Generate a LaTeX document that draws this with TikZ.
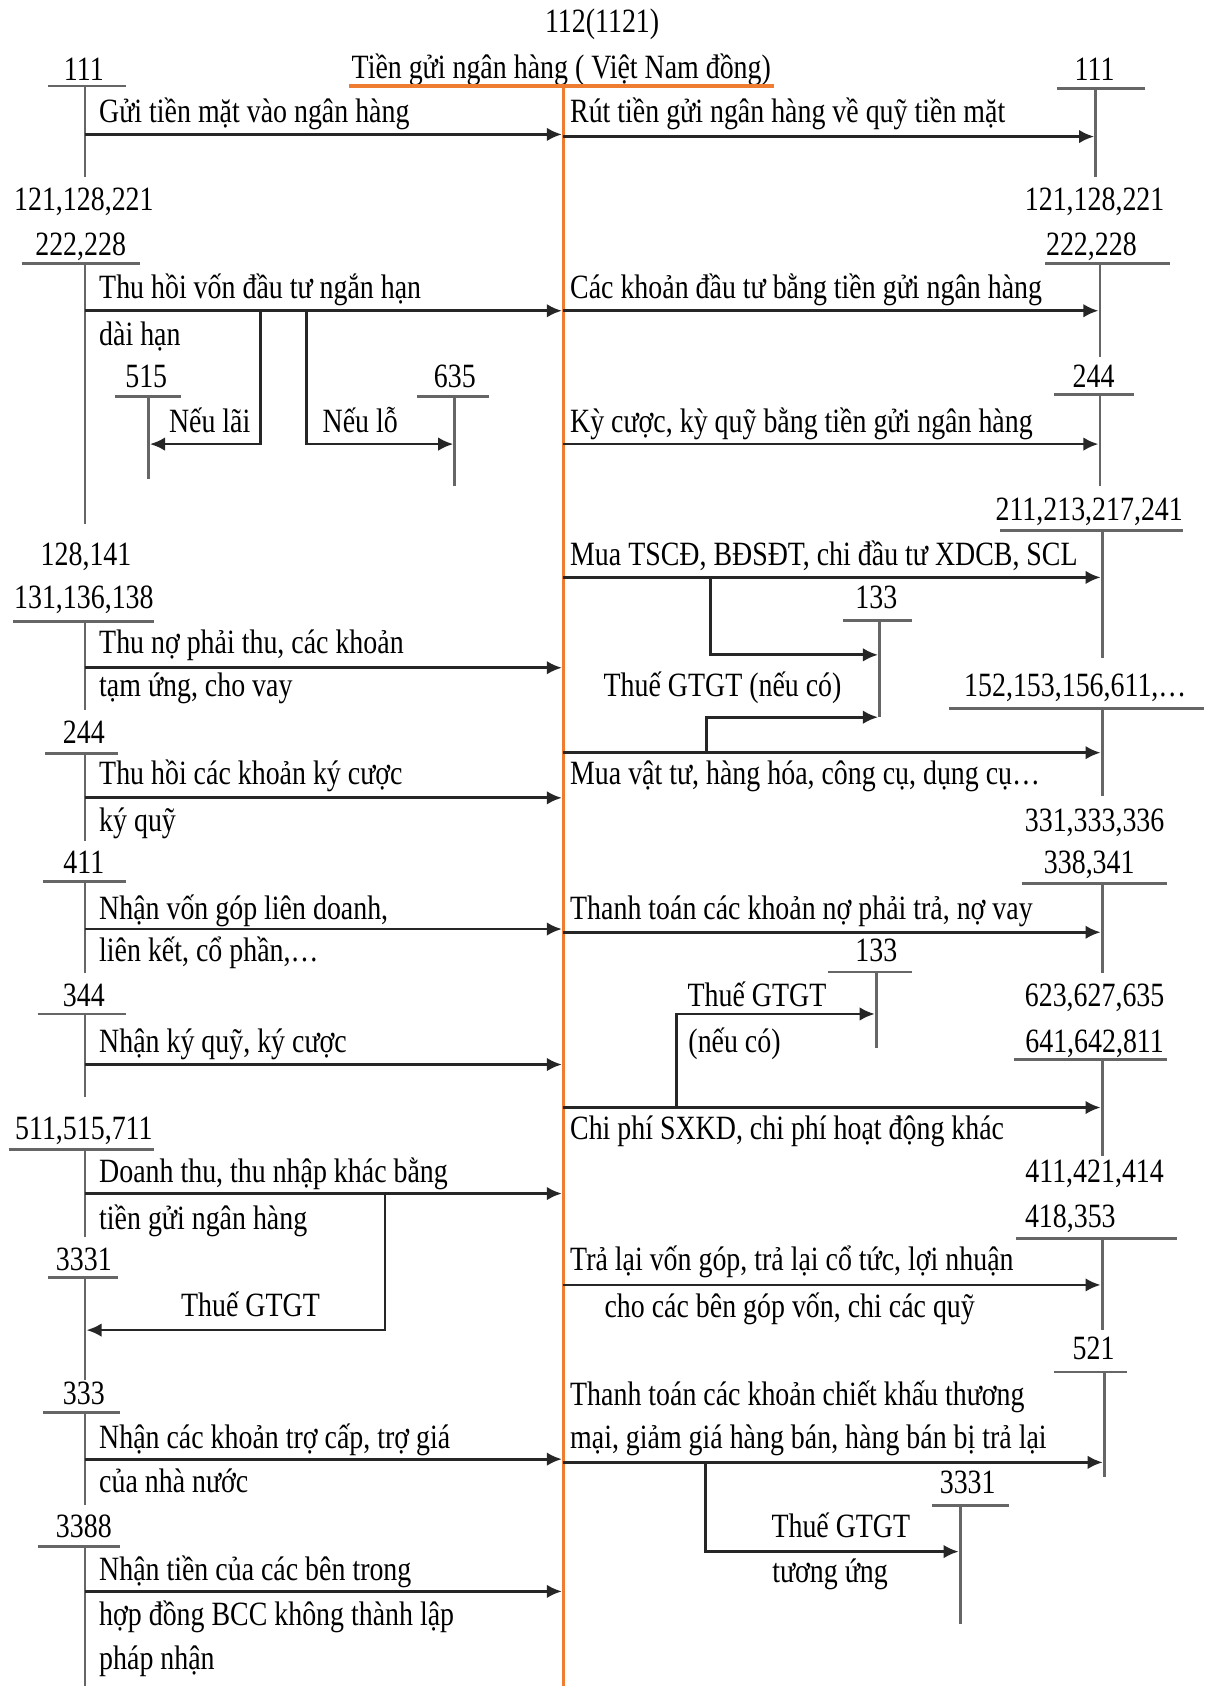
\documentclass[tikz,border=0pt]{standalone}
\usepackage{fontspec}
\setmainfont{Liberation Serif}[FakeStretch=0.82]
\usetikzlibrary{arrows.meta}
\definecolor{bankline}{HTML}{EE7D31}
\tikzset{
      acct/.style={inner sep=0pt, anchor=base},
      memo/.style={inner sep=0pt, anchor=base west},
      tbar/.style={draw=black!60, line width=1.9pt},
      flow/.style={draw=black!85, line width=1.8pt, shorten >=1pt, -{Latex[length=10pt,width=9pt]}},
      ledger/.style={draw=bankline, line width=2.4pt}
    }

\begin{document}
\begin{tikzpicture}[x=0.025cm,y=-0.025cm,font=\fontsize{22.5}{28}\selectfont]
    \useasboundingbox (0,0) rectangle (1120,1568);
    \node[acct] (a112) at (560,30) {112(1121)};
    \node[acct] (title) at (522,73) {Tiền gửi ngân hàng ( Việt Nam đồng)};
    \coordinate (bank) at (524,80);
    \coordinate (bankend) at (524,1568);
    \draw[ledger] (325,80) -- (720,80);
    \draw[ledger] (bank) -- (bankend);

    % ben no
    \node[acct] (l111) at (78,75) {111};
    \draw[tbar] (45,80) -- (117,80);
    \draw[tbar] (79,80) -- (79,165);
    \coordinate (in1) at (79,125);
    \draw[flow] (in1) -- (in1 -| bank);
    \node[memo] (m1) at (92,114) {Gửi tiền mặt vào ngân hàng};

    \node[acct] (l121) at (78,196) {121,128,221};
    \node[acct] (l222) at (75,238) {222,228};
    \draw[tbar] (20,245) -- (130,245);
    \draw[tbar] (79,245) -- (79,487);
    \coordinate (in2) at (79,289);
    \draw[flow] (in2) -- (in2 -| bank);
    \node[memo] (m2) at (92,278) {Thu hồi vốn đầu tư ngắn hạn};
    \node[memo] (m2b) at (92,321) {dài hạn};
    \node[acct] (l515) at (136,360) {515};
    \draw[tbar] (107,369) -- (168,369);
    \draw[tbar] (138,369) -- (138,445);
    \node[acct] (l635) at (423,360) {635};
    \draw[tbar] (388,369) -- (455,369);
    \draw[tbar] (423,369) -- (423,452);
    \coordinate (gain) at (242,289);
    \coordinate (g515) at (138,413);
    \draw[flow] (gain) |- (g515);
    \coordinate (loss) at (285,289);
    \coordinate (g635) at (423,413);
    \draw[flow] (loss) |- (g635);
    \node[acct] (lai) at (195,402) {Nếu lãi};
    \node[acct] (lo) at (335,402) {Nếu lỗ};

    \node[acct] (l128) at (80,526) {128,141};
    \node[acct] (l131) at (78,566) {131,136,138};
    \draw[tbar] (12,578) -- (143,578);
    \draw[tbar] (79,578) -- (79,660);
    \coordinate (in3) at (79,621);
    \draw[flow] (in3) -- (in3 -| bank);
    \node[memo] (m3) at (92,608) {Thu nợ phải thu, các khoản};
    \node[memo] (m3b) at (92,648) {tạm ứng, cho vay};

    \node[acct] (l244) at (78,691) {244};
    \draw[tbar] (42,701) -- (110,701);
    \draw[tbar] (79,701) -- (79,782);
    \coordinate (in4) at (79,742);
    \draw[flow] (in4) -- (in4 -| bank);
    \node[memo] (m4) at (92,730) {Thu hồi các khoản ký cược};
    \node[memo] (m4b) at (92,773) {ký quỹ};

    \node[acct] (l411) at (78,812) {411};
    \draw[tbar] (40,820) -- (117,820);
    \draw[tbar] (79,820) -- (79,905);
    \coordinate (in5) at (79,864);
    \draw[flow] (in5) -- (in5 -| bank);
    \node[memo] (m5) at (92,855) {Nhận vốn góp liên doanh,};
    \node[memo] (m5b) at (92,894) {liên kết, cổ phần,…};

    \node[acct] (l344) at (78,936) {344};
    \draw[tbar] (35,943) -- (117,943);
    \draw[tbar] (79,943) -- (79,1020);
    \coordinate (in6) at (79,990);
    \draw[flow] (in6) -- (in6 -| bank);
    \node[memo] (m6) at (92,979) {Nhận ký quỹ, ký cược};

    \node[acct] (l511) at (78,1060) {511,515,711};
    \draw[tbar] (8,1069) -- (143,1069);
    \draw[tbar] (79,1069) -- (79,1150);
    \coordinate (in7) at (79,1110);
    \draw[flow] (in7) -- (in7 -| bank);
    \node[memo] (m7) at (92,1100) {Doanh thu, thu nhập khác bằng};
    \node[memo] (m7b) at (92,1143) {tiền gửi ngân hàng};
    \node[acct] (l3331) at (78,1182) {3331};
    \draw[tbar] (45,1188) -- (110,1188);
    \draw[tbar] (79,1188) -- (79,1283);
    \coordinate (vatl) at (358,1110);
    \coordinate (g3331) at (79,1237);
    \draw[flow] (vatl) |- (g3331);
    \node[acct] (vatlt) at (233,1224) {Thuế GTGT};

    \node[acct] (l333) at (78,1306) {333};
    \draw[tbar] (40,1314) -- (112,1314);
    \draw[tbar] (79,1314) -- (79,1400);
    \coordinate (in8) at (79,1357);
    \draw[flow] (in8) -- (in8 -| bank);
    \node[memo] (m8) at (92,1347) {Nhận các khoản trợ cấp, trợ giá};
    \node[memo] (m8b) at (92,1388) {của nhà nước};

    \node[acct] (l3388) at (78,1430) {3388};
    \draw[tbar] (35,1438) -- (112,1438);
    \draw[tbar] (79,1438) -- (79,1568);
    \coordinate (in9) at (79,1480);
    \draw[flow] (in9) -- (in9 -| bank);
    \node[memo] (m9) at (92,1470) {Nhận tiền của các bên trong};
    \node[memo] (m9b) at (92,1512) {hợp đồng BCC không thành lập};
    \node[memo] (m9c) at (92,1553) {pháp nhận};

    % ben co
    \node[acct] (r111) at (1018,75) {111};
    \draw[tbar] (983,82) -- (1065,82);
    \draw[tbar] (1019,82) -- (1019,165);
    \coordinate (out1) at (1019,127);
    \draw[flow] (out1 -| bank) -- (out1);
    \node[memo] (n1) at (530,114) {Rút tiền gửi ngân hàng về quỹ tiền mặt};

    \node[acct] (r121) at (1018,196) {121,128,221};
    \node[acct] (r222) at (1015,238) {222,228};
    \draw[tbar] (972,245) -- (1088,245);
    \draw[tbar] (1023,245) -- (1023,332);
    \coordinate (out2) at (1023,289);
    \draw[flow] (out2 -| bank) -- (out2);
    \node[memo] (n2) at (530,278) {Các khoản đầu tư bằng tiền gửi ngân hàng};

    \node[acct] (r244) at (1017,360) {244};
    \draw[tbar] (980,367) -- (1055,367);
    \draw[tbar] (1023,367) -- (1023,452);
    \coordinate (out3) at (1023,413);
    \draw[flow] (out3 -| bank) -- (out3);
    \node[memo] (n3) at (530,402) {Kỳ cược, kỳ quỹ bằng tiền gửi ngân hàng};

    \node[acct] (r211) at (1013,484) {211,213,217,241};
    \draw[tbar] (930,493) -- (1100,493);
    \draw[tbar] (1025,493) -- (1025,612);
    \coordinate (out4) at (1025,537);
    \draw[flow] (out4 -| bank) -- (out4);
    \node[memo] (n4) at (530,526) {Mua TSCĐ, BĐSĐT, chi đầu tư XDCB, SCL};
    \node[acct] (r133a) at (815,566) {133};
    \draw[tbar] (784,577) -- (848,577);
    \draw[tbar] (818,577) -- (818,667);
    \coordinate (vat1) at (661,537);
    \coordinate (v133a) at (818,609);
    \draw[flow] (vat1) |- (v133a);
    \coordinate (vat2) at (657,700);
    \coordinate (v133b) at (818,667);
    \draw[flow] (vat2) |- (v133b);
    \node[acct] (vat1t) at (672,648) {Thuế GTGT (nếu có)};

    \node[acct] (r152) at (1000,648) {152,153,156,611,…};
    \draw[tbar] (883,659) -- (1120,659);
    \draw[tbar] (1025,659) -- (1025,740);
    \coordinate (out5) at (1025,700);
    \draw[flow] (out5 -| bank) -- (out5);
    \node[memo] (n5) at (530,730) {Mua vật tư, hàng hóa, công cụ, dụng cụ…};

    \node[acct] (r331) at (1018,773) {331,333,336};
    \node[acct] (r338) at (1013,812) {338,341};
    \draw[tbar] (950,822) -- (1085,822);
    \draw[tbar] (1025,822) -- (1025,905);
    \coordinate (out6) at (1025,867);
    \draw[flow] (out6 -| bank) -- (out6);
    \node[memo] (n6) at (530,855) {Thanh toán các khoản nợ phải trả, nợ vay};

    \node[acct] (r133b) at (815,894) {133};
    \draw[tbar] (770,904) -- (848,904);
    \draw[tbar] (815,904) -- (815,975);
    \coordinate (vat3) at (629,1030);
    \coordinate (v133c) at (815,943);
    \draw[flow] (vat3) |- (v133c);
    \node[acct] (vat3t) at (704,936) {Thuế GTGT};
    \node[memo] (vat3b) at (640,979) {(nếu có)};

    \node[acct] (r623) at (1018,936) {623,627,635};
    \node[acct] (r641) at (1018,979) {641,642,811};
    \draw[tbar] (943,985) -- (1085,985);
    \draw[tbar] (1025,985) -- (1025,1075);
    \coordinate (out7) at (1025,1030);
    \draw[flow] (out7 -| bank) -- (out7);
    \node[memo] (n7) at (530,1060) {Chi phí SXKD, chi phí hoạt động khác};

    \node[acct] (r411) at (1018,1100) {411,421,414};
    \node[memo] (r418) at (953,1142) {418,353};
    \draw[tbar] (945,1152) -- (1095,1152);
    \draw[tbar] (1025,1152) -- (1025,1237);
    \coordinate (out8) at (1025,1195);
    \draw[flow] (out8 -| bank) -- (out8);
    \node[memo] (n8) at (530,1182) {Trả lại vốn góp, trả lại cổ tức, lợi nhuận};
    \node[memo] (n8b) at (562,1225) {cho các bên góp vốn, chi các quỹ};

    \node[acct] (r521) at (1017,1264) {521};
    \draw[tbar] (980,1276) -- (1048,1276);
    \draw[tbar] (1027,1276) -- (1027,1374);
    \coordinate (out9) at (1027,1360);
    \draw[flow] (out9 -| bank) -- (out9);
    \node[memo] (n9) at (530,1307) {Thanh toán các khoản chiết khấu thương};
    \node[memo] (n9b) at (530,1347) {mại, giảm giá hàng bán, hàng bán bị trả lại};
    \node[acct] (r3331) at (900,1389) {3331};
    \draw[tbar] (867,1400) -- (938,1400);
    \draw[tbar] (893,1400) -- (893,1510);
    \coordinate (vat4) at (656,1360);
    \coordinate (v3331) at (893,1443);
    \draw[flow] (vat4) |- (v3331);
    \node[acct] (vat4t) at (782,1430) {Thuế GTGT};
    \node[acct] (vat4b) at (772,1472) {tương ứng};
    \end{tikzpicture}
\end{document}
